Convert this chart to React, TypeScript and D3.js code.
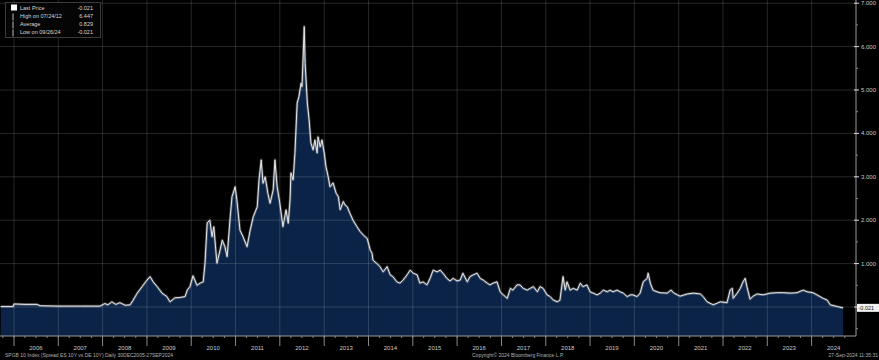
import React from "react";
import * as d3 from "d3";

// spread series: [decimal year, value]
const calmYears: [number, number][] = [
  [2005.7, 0.01], [2005.98, 0.01], [2006.0, 0.07], [2006.25, 0.06], [2006.52, 0.06],
  [2006.59, 0.03], [2007.0, 0.02], [2007.5, 0.02], [2007.94, 0.02], [2008.05, 0.08],
  [2008.12, 0.05], [2008.21, 0.12], [2008.3, 0.06], [2008.39, 0.1], [2008.51, 0.04],
  [2008.62, 0.05], [2008.69, 0.16], [2008.78, 0.32], [2008.89, 0.47], [2009.0, 0.62],
  [2009.07, 0.7], [2009.14, 0.58], [2009.23, 0.47], [2009.34, 0.32], [2009.45, 0.24],
  [2009.52, 0.12], [2009.63, 0.21], [2009.75, 0.22], [2009.86, 0.24], [2009.91, 0.39],
  [2009.97, 0.47], [2010.04, 0.72], [2010.13, 0.5], [2010.2, 0.55], [2010.27, 0.58],
];

const crisisYears: [number, number][] = [
  [2010.31, 1.01], [2010.36, 1.94], [2010.42, 2.0], [2010.47, 1.62], [2010.51, 1.85],
  [2010.58, 1.01], [2010.65, 1.31], [2010.7, 1.54], [2010.76, 1.39], [2010.81, 1.16],
  [2010.88, 2.08], [2010.92, 2.54], [2010.99, 2.77], [2011.03, 2.47], [2011.1, 1.77],
  [2011.17, 1.62], [2011.26, 1.39], [2011.33, 1.77], [2011.4, 2.08], [2011.49, 2.31],
  [2011.53, 2.93], [2011.58, 3.39], [2011.62, 2.85], [2011.67, 3.0], [2011.73, 2.62],
  [2011.78, 2.39], [2011.85, 2.7], [2011.89, 3.39], [2011.94, 2.77], [2012.0, 2.39],
  [2012.07, 1.85], [2012.14, 2.24], [2012.19, 1.93], [2012.23, 2.47], [2012.25, 3.09],
  [2012.3, 2.93], [2012.34, 3.55], [2012.39, 4.7], [2012.43, 4.85], [2012.48, 5.16],
  [2012.5, 5.08], [2012.55, 6.46], [2012.57, 5.61], [2012.62, 4.7], [2012.66, 4.31],
  [2012.7, 3.78], [2012.75, 3.62], [2012.79, 3.85], [2012.84, 3.55], [2012.86, 3.92],
  [2012.91, 3.69], [2012.95, 3.85], [2013.0, 3.55], [2013.04, 3.23], [2013.09, 3.0],
  [2013.13, 2.77], [2013.2, 2.86], [2013.27, 2.62], [2013.32, 2.54], [2013.36, 2.24],
  [2013.43, 2.43], [2013.47, 2.35], [2013.52, 2.31], [2013.58, 2.16], [2013.65, 2.0],
  [2013.74, 1.85], [2013.81, 1.74], [2013.88, 1.66], [2013.97, 1.58], [2014.04, 1.31],
  [2014.08, 1.24], [2014.1, 1.08], [2014.19, 1.0], [2014.26, 0.93], [2014.33, 0.81],
  [2014.42, 0.93], [2014.49, 0.74], [2014.55, 0.7], [2014.64, 0.58], [2014.71, 0.55],
  [2014.78, 0.62], [2014.87, 0.74], [2014.94, 0.85],
];

const laterYears: [number, number][] = [
  [2015.01, 0.78], [2015.1, 0.74], [2015.16, 0.55], [2015.23, 0.58], [2015.32, 0.51],
  [2015.39, 0.66], [2015.46, 0.85], [2015.55, 0.81], [2015.62, 0.85], [2015.68, 0.78],
  [2015.77, 0.66], [2015.84, 0.6], [2015.91, 0.66], [2016.0, 0.6], [2016.07, 0.62],
  [2016.13, 0.78], [2016.23, 0.58], [2016.29, 0.7], [2016.36, 0.74], [2016.45, 0.78],
  [2016.52, 0.66], [2016.59, 0.62], [2016.68, 0.55], [2016.74, 0.51], [2016.81, 0.55],
  [2016.9, 0.58], [2016.97, 0.35], [2017.04, 0.28], [2017.13, 0.2], [2017.2, 0.43],
  [2017.26, 0.39], [2017.35, 0.51], [2017.42, 0.51], [2017.49, 0.43], [2017.58, 0.39],
  [2017.65, 0.43], [2017.72, 0.47], [2017.81, 0.35], [2017.87, 0.47], [2017.94, 0.43],
  [2018.03, 0.28], [2018.1, 0.24], [2018.17, 0.16], [2018.26, 0.12], [2018.32, 0.16],
  [2018.39, 0.7], [2018.44, 0.39], [2018.48, 0.58], [2018.55, 0.39], [2018.62, 0.43],
  [2018.71, 0.39], [2018.78, 0.55], [2018.84, 0.47], [2018.93, 0.51], [2019.0, 0.35],
  [2019.07, 0.32], [2019.16, 0.28], [2019.23, 0.32], [2019.3, 0.39], [2019.39, 0.35],
  [2019.45, 0.39], [2019.52, 0.35], [2019.61, 0.39], [2019.68, 0.35], [2019.75, 0.32],
  [2019.84, 0.24], [2019.91, 0.28], [2019.97, 0.28], [2020.06, 0.24], [2020.13, 0.32],
  [2020.2, 0.58], [2020.29, 0.66], [2020.31, 0.78], [2020.36, 0.55], [2020.42, 0.39],
  [2020.51, 0.35], [2020.58, 0.33], [2020.74, 0.32], [2020.83, 0.39], [2020.88, 0.33],
  [2020.97, 0.28], [2021.03, 0.25], [2021.19, 0.3], [2021.33, 0.32], [2021.49, 0.3],
  [2021.55, 0.24], [2021.64, 0.12], [2021.78, 0.05], [2021.87, 0.09], [2021.94, 0.12],
  [2022.09, 0.1], [2022.16, 0.39], [2022.21, 0.43], [2022.23, 0.2], [2022.32, 0.32],
  [2022.39, 0.43], [2022.45, 0.58], [2022.5, 0.66], [2022.54, 0.47], [2022.61, 0.18],
  [2022.68, 0.25], [2022.77, 0.3], [2022.91, 0.28], [2023.07, 0.32], [2023.22, 0.33],
  [2023.36, 0.33], [2023.52, 0.32], [2023.67, 0.33], [2023.81, 0.39], [2023.9, 0.35],
  [2024.03, 0.33], [2024.12, 0.28], [2024.26, 0.2], [2024.35, 0.16], [2024.42, 0.05],
  [2024.58, 0.01], [2024.71, -0.02],
];

const years = d3.range(2006, 2025);
const yTicks = [0, 1, 2, 3, 4, 5, 6, 7];
const legendRows = [
  { label: "Last Price", value: "-0.021" },
  { label: "High on 07/24/12", value: "6.447" },
  { label: "Average", value: "0.829" },
  { label: "Low on 09/26/24", value: "-0.021" },
];
const lastPrice = "-0.021";
const footerLeft = "SPGB 10 Index (Spread ES 10Y vs DE 10Y)  Daily 30DEC2005-27SEP2024";
const footerMid = "Copyright\u00a9 2024 Bloomberg Finance L.P.";
const footerRight = "27-Sep-2024 11:35:31";

function fromDecimal(t: number) {
  const yr = Math.floor(t);
  const a = new Date(yr, 0, 1).getTime();
  const b = new Date(yr + 1, 0, 1).getTime();
  return new Date(a + (t - yr) * (b - a));
}

export default function App() {
  const width = 879;
  const height = 360;
  const right = 856;
  const bottom = 336;

  const data = [...calmYears, ...crisisYears, ...laterYears].map(([t, v]) => ({
    date: fromDecimal(t),
    value: v,
  }));

  const x = d3.scaleTime().domain([new Date(2006, 0, 1), new Date(2025, 0, 1)]).range([14, right]);
  const y = d3.scaleLinear().domain([0, 7]).range([307, 3.2]);

  const area = d3.area<any>().x(d => x(d.date)).y0(bottom).y1(d => y(d.value));
  const line = d3.line<any>().x(d => x(d.date)).y(d => y(d.value));

  const quarters = d3.timeMonth.every(3)!.range(new Date(2005, 9, 1), new Date(2025, 0, 1));
  const minorY = d3.range(-0.5, 7, 0.5).filter(v => v % 1 !== 0);
  const grid = "rgba(255,255,255,0.15)";
  const font = "'Liberation Sans', Arial, sans-serif";
  const last = data[data.length - 1];

  return (
    <svg width={width} height={height} style={{ position: "absolute", left: 0, top: 0, background: "#000" }} fontFamily={font}>
      <rect width={width} height={height} fill="#000" />
      <path d={area(data) || ""} fill="#0a2346" />

      {years.map(yr => (
        <line key={"g" + yr} x1={x(new Date(yr, 0, 1))} x2={x(new Date(yr, 0, 1))} y1={0} y2={bottom} stroke={grid} />
      ))}
      {yTicks.map(v => (
        <line key={"h" + v} x1={0} x2={right} y1={y(v)} y2={y(v)} stroke={grid} />
      ))}

      <path d={line(data) || ""} fill="none" stroke="rgba(200,200,200,0.35)" strokeWidth={2.6} strokeLinejoin="round" />
      <path d={line(data) || ""} fill="none" stroke="#e6e6e6" strokeWidth={1} strokeLinejoin="round" />

      {/* axes */}
      <line x1={0} x2={right} y1={bottom} y2={bottom} stroke="#9a9a9a" />
      <line x1={right} x2={right} y1={0} y2={bottom} stroke="#9a9a9a" />
      {quarters.map((q, i) => (
        <line key={"q" + i} x1={x(q)} x2={x(q)} y1={bottom} y2={bottom + 2} stroke="#888" />
      ))}
      {years.map(yr => (
        <line key={"t" + yr} x1={x(new Date(yr, 0, 1))} x2={x(new Date(yr, 0, 1))} y1={bottom} y2={bottom + 10} stroke="#888" />
      ))}
      {years.map(yr => (
        <text key={"l" + yr} x={x(new Date(yr, 6, 1))} y={350} fontSize={6} fill="#c8c8c8" textAnchor="middle">
          {yr}
        </text>
      ))}

      {yTicks.map(v => (
        <g key={"yt" + v}>
          <line x1={right - 2} x2={right + 3} y1={y(v)} y2={y(v)} stroke="#ddd" />
          {v > 0 && (
            <text x={861} y={y(v) + 2} fontSize={6} fill="#c8c8c8">
              {v.toFixed(3)}
            </text>
          )}
        </g>
      ))}
      {minorY.map(v => (
        <line key={"my" + v} x1={right} x2={right + 2} y1={y(v)} y2={y(v)} stroke="#888" />
      ))}

      {/* last price tag */}
      <rect x={857} y={y(last.value) - 4} width={22} height={8} fill="#f2f2f2" />
      <text x={858.5} y={y(last.value) + 2} fontSize={5.5} fill="#111">
        {lastPrice}
      </text>

      {/* legend */}
      <rect x={5.5} y={2.5} width={95} height={35} fill="#050505" stroke="#3a3a3a" />
      <rect x={11} y={4.5} width={6} height={6} fill="#fff" />
      {legendRows.map((r, i) => (
        <g key={r.label}>
          {i > 0 && <line x1={13} x2={13} y1={9 + i * 8 - 3.5} y2={9 + i * 8 + 3.5} stroke="#bbb" />}
          <text x={20} y={9.5 + i * 8} fontSize={5.5} fill="#d8d8d8">
            {r.label}
          </text>
          <text x={93} y={9.5 + i * 8} fontSize={5.5} fill="#d8d8d8" textAnchor="end">
            {r.value}
          </text>
        </g>
      ))}

      {/* footer */}
      <text x={5} y={357} fontSize={5} fill="#b0b0b0">{footerLeft}</text>
      <text x={518} y={357} fontSize={5} fill="#b0b0b0" textAnchor="middle">{footerMid}</text>
      <text x={878} y={357} fontSize={5} fill="#b0b0b0" textAnchor="end">{footerRight}</text>
    </svg>
  );
}
